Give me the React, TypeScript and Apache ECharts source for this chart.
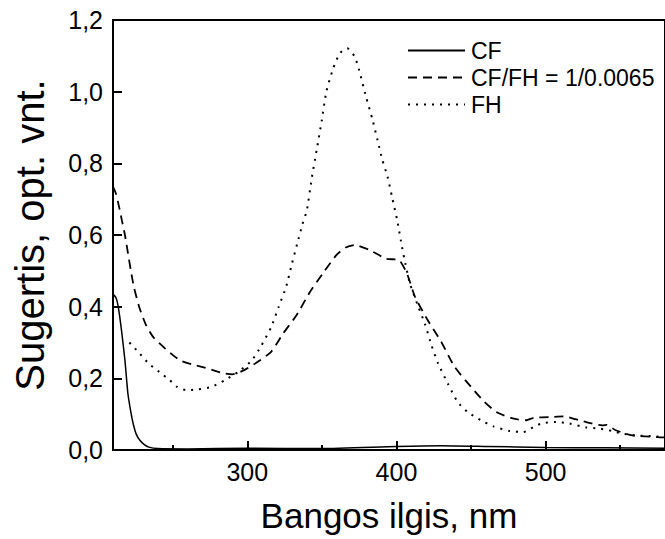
import React, { useEffect, useRef } from "react";
import * as echarts from "echarts";

// Wavelength (nm) and absorbance values
const cfWl = [210, 212, 213.5, 215.7, 218, 220, 222, 223.5, 225.5, 228, 231, 234, 240, 260, 300, 350, 400, 430, 460, 500, 540, 580];
const cfAbs = [0.435, 0.425, 0.4, 0.334, 0.25, 0.157, 0.105, 0.074, 0.045, 0.027, 0.015, 0.008, 0.004, 0.003, 0.005, 0.004, 0.01, 0.012, 0.01, 0.007, 0.006, 0.005];

const mixWl = [210, 212, 214, 216, 218, 220, 222, 224, 227.5, 232, 237, 245, 255, 265, 274, 283, 290, 298, 307, 316, 324, 333, 342, 351, 360, 366, 372, 382, 393, 399, 402, 407, 412.5, 421, 430, 439, 450, 459, 467, 478, 487, 492, 503, 512, 520, 527, 538, 541, 547, 558, 575, 580];
const mixAbs = [0.735, 0.715, 0.68, 0.64, 0.6, 0.55, 0.5, 0.455, 0.4, 0.35, 0.315, 0.283, 0.25, 0.237, 0.227, 0.215, 0.211, 0.223, 0.246, 0.274, 0.325, 0.376, 0.441, 0.495, 0.545, 0.565, 0.572, 0.558, 0.534, 0.532, 0.53, 0.493, 0.427, 0.362, 0.302, 0.232, 0.176, 0.134, 0.106, 0.088, 0.083, 0.09, 0.092, 0.094, 0.086, 0.078, 0.069, 0.07, 0.055, 0.041, 0.036, 0.035];

const fhWl = [221, 228, 234, 241, 248, 253, 259, 267, 276, 285, 294, 303, 309, 316, 321, 326, 330, 333.5, 337, 340, 343, 346.5, 350, 353, 357.6, 362, 367, 372, 375, 379.6, 384, 387.3, 390.6, 394, 397, 400.5, 403.7, 406, 409, 414.7, 419, 423.5, 428, 434.5, 441, 447.7, 456.5, 465, 476, 485, 491.7, 498, 507, 516, 527, 536, 544.5, 551, 560, 575, 580];
const fhAbs = [0.3, 0.269, 0.241, 0.218, 0.195, 0.176, 0.167, 0.169, 0.176, 0.195, 0.218, 0.25, 0.288, 0.343, 0.399, 0.455, 0.521, 0.576, 0.63, 0.67, 0.753, 0.837, 0.921, 1.0, 1.065, 1.107, 1.121, 1.098, 1.06, 0.986, 0.921, 0.865, 0.809, 0.763, 0.707, 0.641, 0.567, 0.52, 0.465, 0.399, 0.353, 0.292, 0.241, 0.185, 0.134, 0.106, 0.083, 0.066, 0.053, 0.05, 0.064, 0.075, 0.078, 0.074, 0.063, 0.06, 0.053, 0.046, 0.041, 0.038, 0.037];

const seriesNames = ["CF", "CF/FH = 1/0.0065", "FH"];
const xMajorTicks = [300, 400, 500];
const xMinorTicks = [250, 350, 450, 550];

const zip = (a: number[], b: number[]) => a.map((v, i) => [v, b[i]]);

const FONT = "'Liberation Sans', Arial, sans-serif";

export default function App() {
  const ref = useRef<HTMLDivElement>(null);
  useEffect(() => {
    if (!ref.current) return;
    const chart = echarts.init(ref.current, null, { renderer: "svg" });
    const xMin = 210;
    const xMax = 580;
    const common = {
      type: "value" as const,
      min: xMin,
      max: xMax,
      splitLine: { show: false },
    };
    chart.setOption({
      animation: false,
      backgroundColor: "#fff",
      grid: {
        left: 113,
        top: 20,
        width: (xMax - xMin) * 1.516,
        height: 430,
        show: true,
        borderColor: "#000",
        borderWidth: 2,
        backgroundColor: "transparent",
      },
      legend: {
        orient: "vertical",
        left: 407,
        top: 39,
        itemWidth: 57,
        itemHeight: 22,
        itemGap: 4,
        padding: 0,
        data: seriesNames,
        itemStyle: { opacity: 0 },
        textStyle: { fontFamily: FONT, fontSize: 23, color: "#000", padding: [0, 0, 0, 1] },
      },
      xAxis: [
        {
          ...common,
          position: "bottom",
          axisLine: { show: true, lineStyle: { color: "#000", width: 2 } },
          axisTick: { show: true, inside: true, length: 9, lineStyle: { color: "#000", width: 2 }, customValues: xMajorTicks },
          axisLabel: { show: true, customValues: xMajorTicks, fontFamily: FONT, fontSize: 25, color: "#000", margin: 9 },
          name: "Bangos ilgis, nm",
          nameLocation: "middle",
          nameGap: 48,
          nameTextStyle: { fontFamily: FONT, fontSize: 35, color: "#000" },
        },
        {
          ...common,
          position: "bottom",
          axisLine: { show: false },
          axisTick: { show: true, inside: true, length: 5, lineStyle: { color: "#000", width: 2 }, customValues: xMinorTicks },
          axisLabel: { show: false },
        },
      ],
      yAxis: {
        type: "value",
        min: 0,
        max: 1.2,
        interval: 0.2,
        splitLine: { show: false },
        axisLine: { show: true, lineStyle: { color: "#000", width: 2 } },
        axisTick: { show: true, inside: true, length: 9, lineStyle: { color: "#000", width: 2 } },
        axisLabel: {
          fontFamily: FONT,
          fontSize: 25,
          color: "#000",
          margin: 10,
          formatter: (v: number) => v.toFixed(1).replace(".", ","),
        },
        name: "Sugertis, opt. vnt.",
        nameLocation: "middle",
        nameGap: 63,
        nameTextStyle: { fontFamily: FONT, fontSize: 40, color: "#000" },
      },
      series: [
        {
          name: seriesNames[0],
          type: "line",
          data: zip(cfWl, cfAbs),
          symbol: "none",
          smooth: 0.2,
          lineStyle: { color: "#000", width: 1.5, type: "solid" },
          itemStyle: { color: "#000" },
        },
        {
          name: seriesNames[1],
          type: "line",
          data: zip(mixWl, mixAbs),
          symbol: "none",
          smooth: 0.2,
          lineStyle: { color: "#000", width: 1.8, type: [9, 6] },
          itemStyle: { color: "#000" },
        },
        {
          name: seriesNames[2],
          type: "line",
          data: zip(fhWl, fhAbs),
          symbol: "none",
          smooth: 0.2,
          lineStyle: { color: "#000", width: 2, type: [2, 6] },
          itemStyle: { color: "#000" },
        },
      ],
    });
    return () => chart.dispose();
  }, []);
  return (
    <div
      ref={ref}
      style={{ position: "fixed", left: 0, top: 0, width: 665, height: 539, background: "#fff" }}
    />
  );
}
